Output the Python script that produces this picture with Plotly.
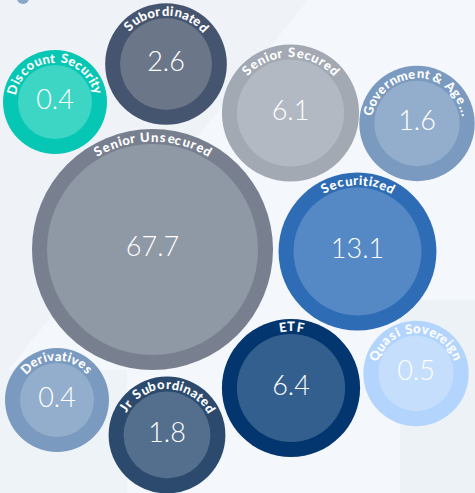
import math
import plotly.graph_objects as go

# ---------------- data ----------------
categories = ["Senior Unsecured", "Securitized", "ETF", "Senior Secured", "Subordinated",
              "Jr Subordinated", "Government & Age...", "Quasi Sovereign", "Discount Security",
              "Derivatives"]
values = [67.7, 13.1, 6.4, 6.1, 2.6, 1.8, 1.6, 0.5, 0.4, 0.4]

# ---------------- styles / layout (not data) ----------------
outer_colors = ["#78808f", "#2e6db5", "#03366f", "#a3a9b3", "#46556f",
                "#2c4a6e", "#7b9abf", "#b3d5fd", "#06c7b3", "#7b9abf"]
inner_colors = ["#8f98a5", "#5589c5", "#335f8e", "#b3b9c3", "#6b7689",
                "#546f8d", "#93aecc", "#c4defc", "#3dd5c4", "#93aecc"]
# packed-layout centres (px) as produced by the force layout in the reference
node_pos = [(152.5, 249.5), (357.5, 251.5), (291, 388), (290.5, 113), (166, 64),
            (167, 435), (417.0, 123.5), (416, 373.5), (55, 102), (57, 400)]

W, H = 475, 493
R_MIN, R_MAX = 52.0, 120.5
RING = 15.0
LABEL_SIZE = 13
LETTER_SP = 0.8
NUM_SIZE = 27

vmin, vmax = min(values), max(values)


def radius(v):
    s0, s1 = math.sqrt(vmin), math.sqrt(vmax)
    return R_MIN + (math.sqrt(v) - s0) / (s1 - s0) * (R_MAX - R_MIN)


# approximate bold sans widths (1/1000 em)
WID = {' ': 278, '&': 722, '.': 278}
for ch, w in zip("abcdefghijklmnopqrstuvwxyz",
                 [556, 611, 556, 611, 556, 333, 611, 611, 278, 278, 556, 278, 889, 611, 611, 611, 611,
                  389, 556, 333, 611, 556, 778, 556, 556, 500]):
    WID[ch] = w
for ch, w in zip("ABCDEFGHIJKLMNOPQRSTUVWXYZ",
                 [722, 722, 722, 722, 667, 611, 778, 722, 278, 556, 722, 611, 833, 722, 778, 667, 778,
                  722, 667, 611, 722, 667, 944, 667, 667, 611]):
    WID[ch] = w

radii = [radius(v) for v in values]
xs = [p[0] for p in node_pos]
ys = [p[1] for p in node_pos]

fig = go.Figure()
fig.add_trace(go.Scatter(
    x=xs, y=ys, mode="markers",
    marker=dict(size=[2 * r for r in radii], sizemode="diameter", sizeref=1,
                color=outer_colors, opacity=1, line=dict(width=0)),
    hoverinfo="skip", showlegend=False))
fig.add_trace(go.Scatter(
    x=xs, y=ys, mode="markers+text",
    marker=dict(size=[2 * (r - RING) for r in radii], sizemode="diameter", sizeref=1,
                color=inner_colors, opacity=1, line=dict(width=0)),
    text=[f"{v:.1f}" for v in values], textposition="middle center",
    textfont=dict(family="Lato", size=NUM_SIZE, color="white", weight=300),
    customdata=categories,
    hovertemplate="%{customdata}: %{text}<extra></extra>", showlegend=False))

annotations = []
for cat, cx, cy, r in zip(categories, xs, ys, radii):
    R = r - RING / 2
    widths = [WID.get(c, 556) / 1000 * LABEL_SIZE + LETTER_SP for c in cat]
    total = sum(widths)
    acc = -total / 2
    for c, w in zip(cat, widths):
        mid = acc + w / 2
        acc += w
        if c == " ":
            continue
        th = mid / R
        px = cx + R * math.sin(th)
        py = cy - R * math.cos(th)
        annotations.append(dict(
            x=px, y=py, xref="x", yref="y", text=c, showarrow=False,
            xanchor="center", yanchor="middle", textangle=math.degrees(th),
            font=dict(family="Lato", size=LABEL_SIZE, color="white", weight=900)))

shapes = [
    dict(type="path", path="M0,0 L308,0 L0,380 Z", fillcolor="#eff3f8",
         line=dict(width=0), layer="below", xref="x", yref="y"),
    dict(type="rect", x0=0, x1=127, y0=370, y1=H, fillcolor="#eef3f8",
         line=dict(width=0), layer="below", xref="x", yref="y"),
    dict(type="rect", x0=400, x1=W, y0=300, y1=H, fillcolor="#edf2f7",
         line=dict(width=0), layer="below", xref="x", yref="y"),
    dict(type="circle", x0=17, x1=29, y0=-8, y1=4, fillcolor="#8aa6c8",
         line=dict(width=0), layer="below", xref="x", yref="y"),
]

fig.update_layout(
    width=W, height=H, margin=dict(l=0, r=0, t=0, b=0),
    paper_bgcolor="#f4f7fb", plot_bgcolor="#f4f7fb",
    xaxis=dict(range=[0, W], visible=False, fixedrange=True),
    yaxis=dict(range=[H, 0], visible=False, fixedrange=True),
    annotations=annotations, shapes=shapes, showlegend=False)

fig.write_html("out.html", config={"displayModeBar": False},
               post_script="document.body.style.margin='0';document.body.style.overflow='hidden';")
